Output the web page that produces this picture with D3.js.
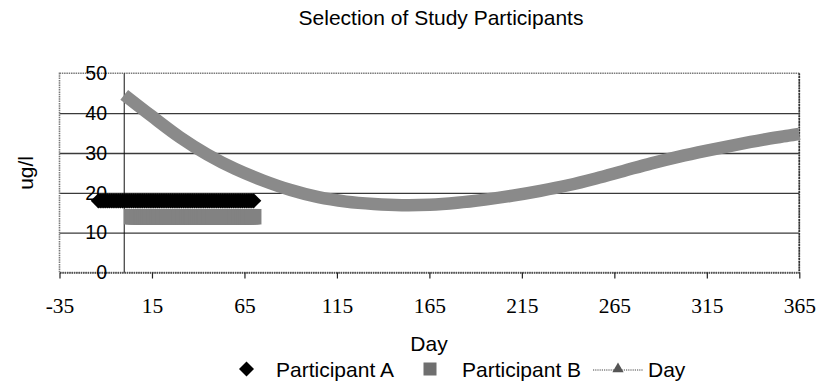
<!DOCTYPE html>
<html>
<head>
<meta charset="utf-8">
<script src="https://cdn.jsdelivr.net/npm/d3@7"></script>
<style>
  html, body { margin: 0; padding: 0; background: #fff; }
  svg { display: block; }
  .sans { font-family: "Liberation Sans", Arial, Helvetica, sans-serif; }
</style>
</head>
<body>
<svg id="chart" width="818" height="391"></svg>
<script>
// ---------------- DATA ----------------
const chartTitle = "Selection of Study Participants";
const xTitle = "Day";
const yTitle = "ug/l";
const xTickValues = [-35, 15, 65, 115, 165, 215, 265, 315, 365];
const xTickLabels = ["-35", "15", "65", "115", "165", "215", "265", "315", "365"];
const yTickValues = [0, 10, 20, 30, 40, 50];
const yTickLabels = ["0", "10", "20", "30", "40", "50"];
const yGridValues = [10, 20, 30, 40];
const seriesNames = ["Participant A", "Participant B", "Day"];

// Participant A: daily markers, day -14 .. 70
const participantADays = [-14,-13,-12,-11,-10,-9,-8,-7,-6,-5,-4,-3,-2,-1,0,1,2,3,4,5,6,7,8,9,10,11,12,13,14,15,16,17,18,19,20,21,22,23,24,25,26,27,28,29,30,31,32,33,34,35,36,37,38,39,40,41,42,43,44,45,46,47,48,49,50,51,52,53,54,55,56,57,58,59,60,61,62,63,64,65,66,67,68,69,70];
const participantAValues = [18,18,18,18,18,18,18,18,18,18,18,18,18,18,18,18,18,18,18,18,18,18,18,18,18,18,18,18,18,18,18,18,18,18,18,18,18,18,18,18,18,18,18,18,18,18,18,18,18,18,18,18,18,18,18,18,18,18,18,18,18,18,18,18,18,18,18,18,18,18,18,18,18,18,18,18,18,18,18,18,18,18,18,18,18];

// Participant B: daily markers, day 4 .. 70
const participantBDays = [4,5,6,7,8,9,10,11,12,13,14,15,16,17,18,19,20,21,22,23,24,25,26,27,28,29,30,31,32,33,34,35,36,37,38,39,40,41,42,43,44,45,46,47,48,49,50,51,52,53,54,55,56,57,58,59,60,61,62,63,64,65,66,67,68,69,70];
const participantBValues = [14,14,14,14,14,14,14,14,14,14,14,14,14,14,14,14,14,14,14,14,14,14,14,14,14,14,14,14,14,14,14,14,14,14,14,14,14,14,14,14,14,14,14,14,14,14,14,14,14,14,14,14,14,14,14,14,14,14,14,14,14,14,14,14,14,14,14];

// "Day" series
const daySeriesDays   = [0,    15,   30,   45,   60,   75,   90,   105,  120,  135,  150,  165,  180,  195,  210,  225,  240,  255,  270,  285,  300,  315,  330,  345,  360,  365];
const daySeriesValues = [44.6, 39.2, 34.0, 29.6, 26.0, 23.1, 20.7, 18.9, 17.8, 17.2, 16.9, 17.0, 17.5, 18.3, 19.3, 20.5, 21.9, 23.6, 25.5, 27.4, 29.1, 30.6, 32.0, 33.3, 34.4, 34.8];

// ---------------- CHART ----------------
const svg = d3.select("#chart");
const plotLeft = 59.5, plotRight = 799.3, plotTop = 73.3, plotBottom = 272.5;

const x = d3.scaleLinear().domain([-35, 365]).range([plotLeft, plotRight]);
const y = d3.scaleLinear().domain([0, 50]).range([plotBottom, plotTop]);

// title
svg.append("text").attr("class", "sans")
  .attr("x", 441).attr("y", 25).attr("text-anchor", "middle")
  .attr("font-size", 21).text(chartTitle);

// gridlines
const grid = svg.append("g").attr("transform", `translate(${plotLeft},0)`)
  .call(d3.axisRight(y).tickValues(yGridValues).tickSize(plotRight - plotLeft).tickFormat(""));
grid.select(".domain").remove();
grid.selectAll("line").attr("stroke", "#3a3a3a").attr("stroke-width", 1.3);

// plot area frame (dotted gray)
svg.append("rect")
  .attr("x", plotLeft).attr("y", plotTop).attr("width", plotRight - plotLeft).attr("height", plotBottom - plotTop)
  .attr("fill", "none").attr("stroke", "#7a7a7a").attr("stroke-width", 1.6)
  .attr("stroke-dasharray", "1.5,0.8");
svg.append("line")
  .attr("x1", plotRight).attr("x2", plotRight).attr("y1", plotTop).attr("y2", plotBottom)
  .attr("stroke", "#333").attr("stroke-width", 1.6).attr("stroke-dasharray", "2,0.8");

// y axis line at day 0
svg.append("line")
  .attr("x1", x(0)).attr("x2", x(0)).attr("y1", plotTop).attr("y2", plotBottom)
  .attr("stroke", "#111").attr("stroke-width", 1);

// x axis
const xAxis = svg.append("g").attr("transform", `translate(0,${plotBottom})`)
  .call(d3.axisBottom(x).tickValues(xTickValues).tickSize(6).tickSizeOuter(0).tickPadding(19)
        .tickFormat((d, i) => xTickLabels[i]));
xAxis.select(".domain").attr("stroke", "#444").attr("stroke-width", 1.6).attr("stroke-dasharray", "1.5,0.8");
xAxis.selectAll(".tick line").attr("stroke", "#222").attr("stroke-width", 1.2);
xAxis.selectAll(".tick text").attr("font-size", 21.5).attr("fill", "#000")
  .attr("font-family", "Liberation Serif, Times New Roman, serif");

// y axis labels
const yAxis = svg.append("g").attr("transform", `translate(107,0)`)
  .call(d3.axisLeft(y).tickValues(yTickValues).tickSize(0).tickPadding(0).tickFormat((d, i) => yTickLabels[i]));
yAxis.select(".domain").remove();
yAxis.selectAll(".tick text").attr("font-size", 19.5).attr("fill", "#000")
  .attr("font-family", "Liberation Sans, Arial, sans-serif");

// axis titles
svg.append("text").attr("class", "sans")
  .attr("x", 429).attr("y", 351).attr("text-anchor", "middle")
  .attr("font-size", 21).text(xTitle);
svg.append("text").attr("class", "sans")
  .attr("transform", `translate(33,${(plotTop + plotBottom) / 2}) rotate(-90)`)
  .attr("text-anchor", "middle").attr("font-size", 21).text(yTitle);

// "Day" series: thick gray curve
const dayData = daySeriesDays.map((d, i) => ({ d, v: daySeriesValues[i] }));
svg.append("path").datum(dayData)
  .attr("fill", "none").attr("stroke", "#8a8a8a").attr("stroke-width", 12.5)
  .attr("stroke-linecap", "butt")
  .attr("d", d3.line().x(p => x(p.d)).y(p => y(p.v)).curve(d3.curveCatmullRom.alpha(0.5)));

// Participant B: gray squares
const bData = participantBDays.map((d, i) => ({ d, v: participantBValues[i] }));
const sq = 15.5;
svg.append("g").selectAll("rect").data(bData).join("rect")
  .attr("x", p => x(p.d) - sq / 2).attr("y", p => y(p.v) - sq / 2)
  .attr("width", sq).attr("height", sq).attr("fill", "#828282");

// Participant A: black diamonds
const aData = participantADays.map((d, i) => ({ d, v: participantAValues[i] }));
const dh = 7.6;
svg.append("g").selectAll("path").data(aData).join("path")
  .attr("d", p => {
    const cx = x(p.d), cy = y(p.v);
    return `M${cx - dh},${cy}L${cx},${cy - dh}L${cx + dh},${cy}L${cx},${cy + dh}Z`;
  })
  .attr("fill", "#000");

// legend
const ly = 369;
const lg = svg.append("g");
lg.append("path")
  .attr("d", `M${246.5 - 7.5},${ly}L246.5,${ly - 7.5}L${246.5 + 7.5},${ly}L246.5,${ly + 7.5}Z`)
  .attr("fill", "#000");
lg.append("text").attr("class", "sans").attr("x", 276).attr("y", 376.5)
  .attr("font-size", 21).text(seriesNames[0]);
lg.append("rect").attr("x", 423.5).attr("y", ly - 6.5).attr("width", 13).attr("height", 13).attr("fill", "#6f6f6f");
lg.append("text").attr("class", "sans").attr("x", 462).attr("y", 376.5)
  .attr("font-size", 21).text(seriesNames[1]);
lg.append("line").attr("x1", 593).attr("x2", 643).attr("y1", ly + 1).attr("y2", ly + 1)
  .attr("stroke", "#444").attr("stroke-width", 1).attr("stroke-dasharray", "1.2,1");
lg.append("path").attr("d", d3.symbol(d3.symbolTriangle, 55)()).attr("transform", `translate(618,${ly})`)
  .attr("fill", "#555");
lg.append("text").attr("class", "sans").attr("x", 648).attr("y", 376.5)
  .attr("font-size", 21).text(seriesNames[2]);
</script>
</body>
</html>
